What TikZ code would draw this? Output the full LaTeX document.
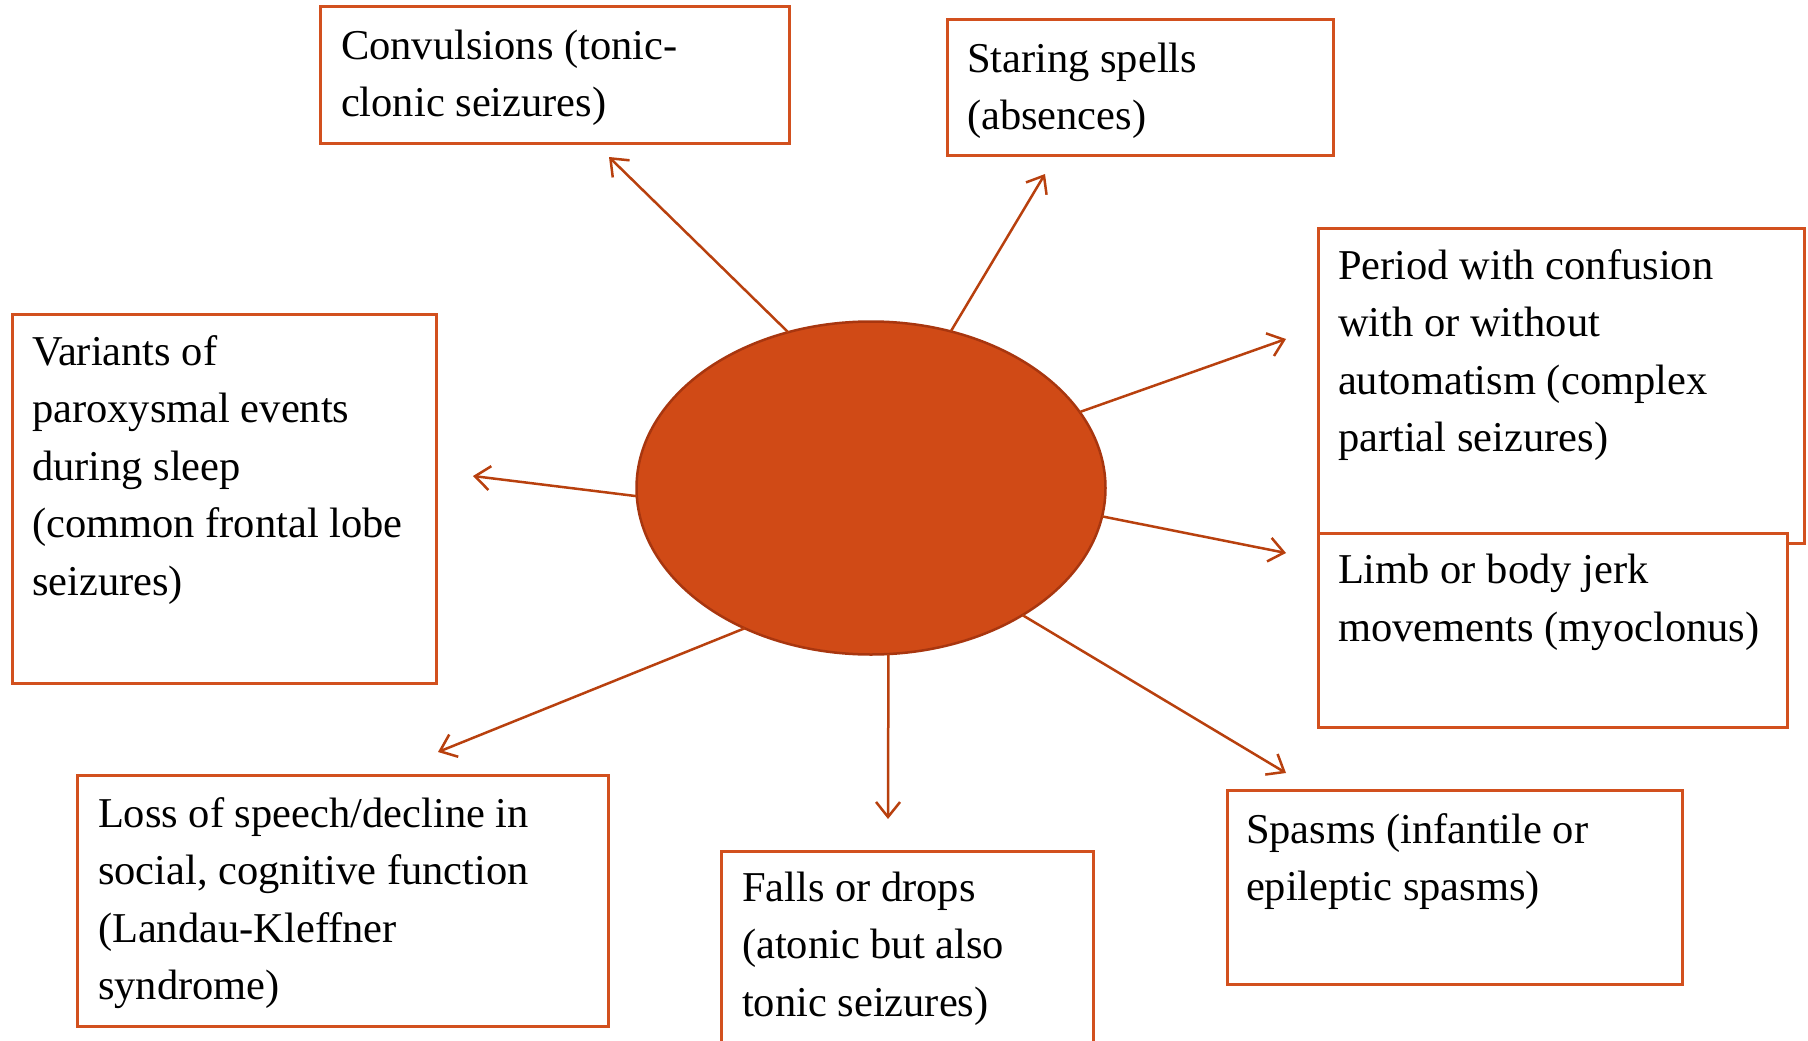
\documentclass[tikz,border=0pt]{standalone}
\usepackage{fontspec}
\setmainfont{Liberation Serif}
\usetikzlibrary{shapes.geometric,arrows.meta}
\definecolor{boxred}{HTML}{D2501E}
\definecolor{spokered}{HTML}{B8400E}
\definecolor{blobfill}{HTML}{D04A16}
\definecolor{blobedge}{HTML}{A8360F}
\begin{document}
\begin{tikzpicture}[x=1pt,y=-1pt,line width=2.5pt,
  every node/.style={inner sep=0pt,outer sep=0pt},
  box/.style={draw=boxred,line width=3pt,fill=white,anchor=north west},
  txt/.style={anchor=base west,align=left,font=\fontsize{42.5}{57.5}\selectfont},
  spoke/.style={draw=spokered,-{Straight Barb[length=15pt,width=24pt]}}]
\useasboundingbox (0,0) rectangle (1808,1041);
\clip (0,0) rectangle (1808,1041);
% boxes
\node[box,minimum width=469,minimum height=136] (conv) at (320,7) {};
\node[box,minimum width=386,minimum height=135] (star) at (947,20) {};
\node[box,minimum width=486,minimum height=315] (peri) at (1318,228) {};
\node[box,minimum width=469,minimum height=194] (limb) at (1318,533) {};
\node[box,minimum width=424,minimum height=369] (vari) at (12,314) {};
\node[box,minimum width=531,minimum height=251] (loss) at (77,775) {};
\node[box,minimum width=372,minimum height=230] (fall) at (721,851) {};
\node[box,minimum width=455,minimum height=194] (spas) at (1227,790) {};
% texts (anchored at the last line)
\node[txt] (convtext) at ([shift={(21,109.5)}]conv.north west) {Convulsions (tonic-\\clonic seizures)};
\node[txt] (startext) at ([shift={(20,109.5)}]star.north west) {Staring spells\\(absences)};
\node[txt] (peritext) at ([shift={(20,223.5)}]peri.north west) {Period with confusion\\with or without\\automatism (complex\\partial seizures)};
\node[txt] (limbtext) at ([shift={(20,108)}]limb.north west) {Limb or body jerk\\movements (myoclonus)};
\node[txt] (varitext) at ([shift={(20,281)}]vari.north west) {Variants of\\paroxysmal events\\during sleep\\(common frontal lobe\\seizures)};
\node[txt] (losstext) at ([shift={(21,224.5)}]loss.north west) {Loss of speech/decline in\\social, cognitive function\\(Landau-Kleffner\\syndrome)};
\node[txt] (falltext) at ([shift={(21,165)}]fall.north west) {Falls or drops\\(atonic but also\\tonic seizures)};
\node[txt] (spastext) at ([shift={(19,110.5)}]spas.north west) {Spasms (infantile or\\epileptic spasms)};
% centre
\node[ellipse,draw=blobedge,fill=blobfill,line width=2.5pt,minimum width=469,minimum height=333] (blob) at (871,488) {};
% arrow tips
\coordinate (tconv) at (609,157);
\coordinate (tstar) at (1045,174);
\coordinate (tperi) at (1286,339);
\coordinate (tlimb) at (1286,553);
\coordinate (tspas) at (1286,773);
\coordinate (tfall) at (888,819);
\coordinate (tloss) at (438,752);
\coordinate (tvari) at (473,476);
\draw[spoke] (blob.118) -- (tconv);
\draw[spoke] (blob.63) -- (tstar);
\draw[spoke] (blob.20) -- (tperi);
\draw[spoke] (blob.-7) -- (tlimb);
\draw[spoke] (blob.-40) -- (tspas);
\draw[spoke] (blob.-84) -- (tfall);
\draw[spoke] (blob.228) -- (tloss);
\draw[spoke] (blob.182) -- (tvari);
\end{tikzpicture}
\end{document}
